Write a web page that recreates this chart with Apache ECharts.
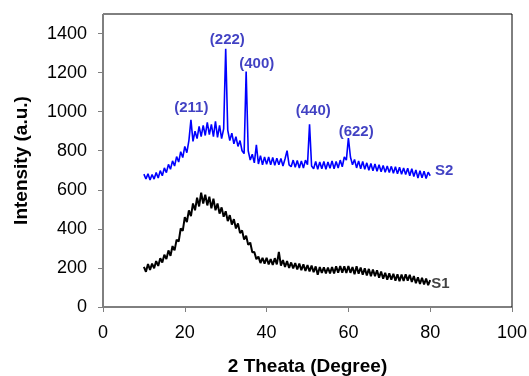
<!DOCTYPE html>
<html>
<head>
<meta charset="utf-8">
<script src="https://cdn.jsdelivr.net/npm/echarts@6/dist/echarts.min.js"></script>
<style>
  html, body { margin: 0; padding: 0; background: #fff; }
  #chart { width: 529px; height: 376px; }
</style>
</head>
<body>
<div id="chart"></div>
<script>
// 2-theta sampling grid: 10 to 80 degrees, 0.5 degree steps
const thetaStart = 10, thetaStep = 0.5, thetaCount = 141;

// S1 intensity (a.u.), one value per grid point (noise envelope)
const s1Values = [
  205,180,220,190,222,198,235,210,250,228,
  268,245,290,262,312,290,345,335,402,390,
  460,435,495,465,530,495,560,515,585,530,
  575,520,565,505,555,495,530,478,510,462,
  490,440,470,422,450,402,428,378,392,345,
  365,318,330,280,282,245,258,225,252,222,
  252,218,245,215,250,218,282,212,240,205,
  235,200,228,198,225,192,222,188,218,185,
  215,182,212,178,208,165,205,175,203,172,
  202,172,205,172,208,175,210,176,208,174,
  210,175,205,168,208,170,202,165,198,162,
  195,158,192,158,188,150,182,145,175,140,
  172,140,170,135,168,132,166,133,168,135,
  165,128,158,122,152,118,150,115,145,112,
  138
];

// S2 intensity (a.u.), one value per grid point (noise envelope)
const s2Values = [
  680,655,682,650,678,655,688,660,698,672,
  712,688,730,705,748,722,770,742,795,765,
  822,790,852,958,848,900,862,925,872,930,
  878,945,882,935,872,950,868,930,862,912,
  1322,905,852,890,835,872,822,852,800,785,
  1206,800,752,782,738,830,732,775,728,768,
  730,768,728,765,725,762,728,760,722,758,
  800,728,718,752,715,750,712,748,712,752,
  728,935,722,708,745,705,742,708,745,705,
  742,710,748,708,745,712,752,718,768,752,
  865,768,728,755,712,748,708,745,705,738,
  700,735,698,732,695,728,692,725,690,722,
  688,720,685,718,682,715,680,712,678,710,
  672,708,668,702,660,698,662,695,658,690,
  672
];

// Peak annotations (Miller indices) and series tags
const peakLabels = ['(211)', '(222)', '(400)', '(440)', '(622)'];
const peakLabelX = [21.6, 30.4, 37.6, 51.4, 61.9];
const peakLabelY = [1022, 1368, 1245, 1002, 896];
const seriesTags = ['S2', 'S1'];
const seriesTagX = [83.4, 82.5];
const seriesTagY = [695, 120];

const xTicks = [0, 20, 40, 60, 80, 100];
const yTicks = [0, 200, 400, 600, 800, 1000, 1200, 1400];

const angles = [];
for (let i = 0; i < thetaCount; i++) angles.push(thetaStart + i * thetaStep);

const FONT = "'Liberation Sans', Arial, sans-serif";
const LABEL_BLUE = '#1212b4';

const chart = echarts.init(document.getElementById('chart'), null, { renderer: 'canvas' });
chart.setOption({
  animation: false,
  backgroundColor: '#ffffff',
  grid: {
    left: 103, right: 17, top: 14, bottom: 69,
    outerBoundsMode: 'none', containLabel: false,
    show: true, borderColor: '#000', borderWidth: 1, backgroundColor: 'transparent'
  },
  xAxis: {
    type: 'value', min: 0, max: 100, interval: 20,
    name: '2 Theata (Degree)', nameLocation: 'middle', nameGap: 50,
    nameTextStyle: { fontFamily: FONT, fontWeight: 'bold', fontSize: 19, color: '#000' },
    axisLine: { show: true, lineStyle: { color: '#7f7f7f', width: 1 } },
    axisTick: { show: true, inside: false, length: 5, lineStyle: { color: '#7f7f7f' } },
    axisLabel: {
      margin: 17, fontFamily: FONT, fontSize: 18, color: '#000',
      formatter: v => (xTicks.indexOf(v) >= 0 ? String(v) : '')
    },
    splitLine: { show: false }
  },
  yAxis: {
    type: 'value', min: 0, max: 1500, interval: 200,
    name: 'Intensity (a.u.)', nameLocation: 'middle', nameGap: 72, nameRotate: 90,
    nameTextStyle: { fontFamily: FONT, fontWeight: 'bold', fontSize: 19, color: '#000' },
    axisLine: { show: true, lineStyle: { color: '#7f7f7f', width: 1 } },
    axisTick: { show: true, inside: false, length: 5, lineStyle: { color: '#7f7f7f' } },
    axisLabel: {
      margin: 16, fontFamily: FONT, fontSize: 18, color: '#000', showMaxLabel: false,
      formatter: v => (yTicks.indexOf(v) >= 0 ? String(v) : '')
    },
    splitLine: { show: false }
  },
  series: [
    {
      name: 'S1', type: 'line', symbol: 'none', silent: true,
      lineStyle: { color: '#000000', width: 2.0 },
      data: angles.map((x, i) => [x, s1Values[i]])
    },
    {
      name: 'S2', type: 'line', symbol: 'none', silent: true,
      lineStyle: { color: '#0000ff', width: 1.6 },
      data: angles.map((x, i) => [x, s2Values[i]])
    },
    {
      name: 'peaks', type: 'scatter', symbolSize: 0, silent: true,
      label: {
        show: true, position: 'inside', formatter: p => p.name,
        fontFamily: FONT, fontWeight: 'bold', fontSize: 15, color: LABEL_BLUE
      },
      data: peakLabels.map((t, i) => ({ name: t, value: [peakLabelX[i], peakLabelY[i]] }))
    },
    {
      name: 'tags', type: 'scatter', symbolSize: 0, silent: true,
      label: {
        show: true, position: 'inside', formatter: p => p.name,
        fontFamily: FONT, fontWeight: 'bold', fontSize: 15
      },
      data: seriesTags.map((t, i) => ({
        name: t, value: [seriesTagX[i], seriesTagY[i]],
        label: { color: t === 'S2' ? LABEL_BLUE : '#111' }
      }))
    }
  ]
});
</script>
</body>
</html>
